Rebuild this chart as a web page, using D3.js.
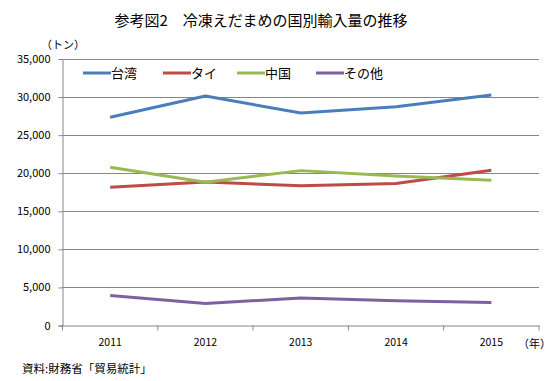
<!DOCTYPE html>
<html><head><meta charset="utf-8">
<script src="https://cdn.jsdelivr.net/npm/d3@7"></script>
<style>body{margin:0;background:#fff}svg{display:block}text{font-family:"Noto Sans CJK JP","Noto Sans",sans-serif}</style>
</head><body><svg id="c" width="557" height="381"></svg>
<script>
const years = ["2011","2012","2013","2014","2015"];
const seriesNames = ["台湾","タイ","中国","その他"];
const taiwan = [27350, 30130, 27900, 28730, 30260];
const thai = [18170, 18860, 18340, 18640, 20390];
const china = [20790, 18820, 20340, 19640, 19080];
const other = [3950, 2900, 3600, 3250, 3030];
const yTicks = [0,5000,10000,15000,20000,25000,30000,35000];
const colors = ["#4A7EBB","#BE4B48","#98B954","#7D60A0"];
const values = [taiwan, thai, china, other];

const svg = d3.select("#c");
const L=62.5, R=539, T=59, B=325.5;
const x = d3.scaleBand().domain(years).range([L,R]);
const y = d3.scaleLinear().domain([0,35000]).range([B,T]);

svg.append("text").attr("x",261).attr("y",26).attr("text-anchor","middle")
  .attr("font-size",15).text("参考図2　冷凍えだまめの国別輸入量の推移");
svg.append("text").attr("x",41).attr("y",49).attr("font-size",11).text("（トン）");

// gridlines
svg.append("g").selectAll("line").data(yTicks.filter(d=>d>0)).join("line")
  .attr("x1",L).attr("x2",R).attr("y1",d=>Math.round(y(d))+0.5).attr("y2",d=>Math.round(y(d))+0.5)
  .attr("stroke","#868686").attr("stroke-width",1);

// y axis
const ya = svg.append("g").attr("transform",`translate(${L},0)`)
  .call(d3.axisLeft(y).tickValues(yTicks).tickSize(4).tickPadding(8).tickFormat(d3.format(",")));
ya.select(".domain").attr("stroke","#868686");
ya.selectAll(".tick line").attr("stroke","#868686");
ya.selectAll("text").attr("font-size",11).attr("fill","#000").attr("font-family","DejaVu Sans, Verdana, sans-serif");

// x axis
const xa = svg.append("g").attr("transform",`translate(0,${B})`)
  .call(d3.axisBottom(x).tickSize(0).tickPadding(13));
xa.select(".domain").attr("stroke","#868686");
xa.selectAll("text").attr("font-size",10.5).attr("fill","#000").attr("font-family","DejaVu Sans, Verdana, sans-serif");
const bounds = years.map(d=>x(d)).concat([R]);
svg.append("g").selectAll("line").data(bounds).join("line")
  .attr("x1",d=>d).attr("x2",d=>d).attr("y1",B).attr("y2",B+5).attr("stroke","#868686");
svg.append("text").attr("x",518).attr("y",348).attr("font-size",11).text("（年）");

// lines
const line = d3.line().x((d,i)=>x(years[i])+x.bandwidth()/2).y(d=>y(d));
svg.append("g").selectAll("path").data(values).join("path")
  .attr("d",line).attr("fill","none").attr("stroke",(d,i)=>colors[i])
  .attr("stroke-width",3).attr("stroke-linejoin","round");

// legend
const lx = [83,163,237,316];
const lg = svg.append("g").selectAll("g").data(seriesNames).join("g")
  .attr("transform",(d,i)=>`translate(${lx[i]},73)`);
lg.append("line").attr("x1",0).attr("x2",28).attr("stroke",(d,i)=>colors[i]).attr("stroke-width",3);
lg.append("text").attr("x",28).attr("y",5).attr("font-size",13).text(d=>d);

svg.append("text").attr("x",22).attr("y",373).attr("font-size",11.5).text("資料:財務省「貿易統計」");
</script></body></html>
